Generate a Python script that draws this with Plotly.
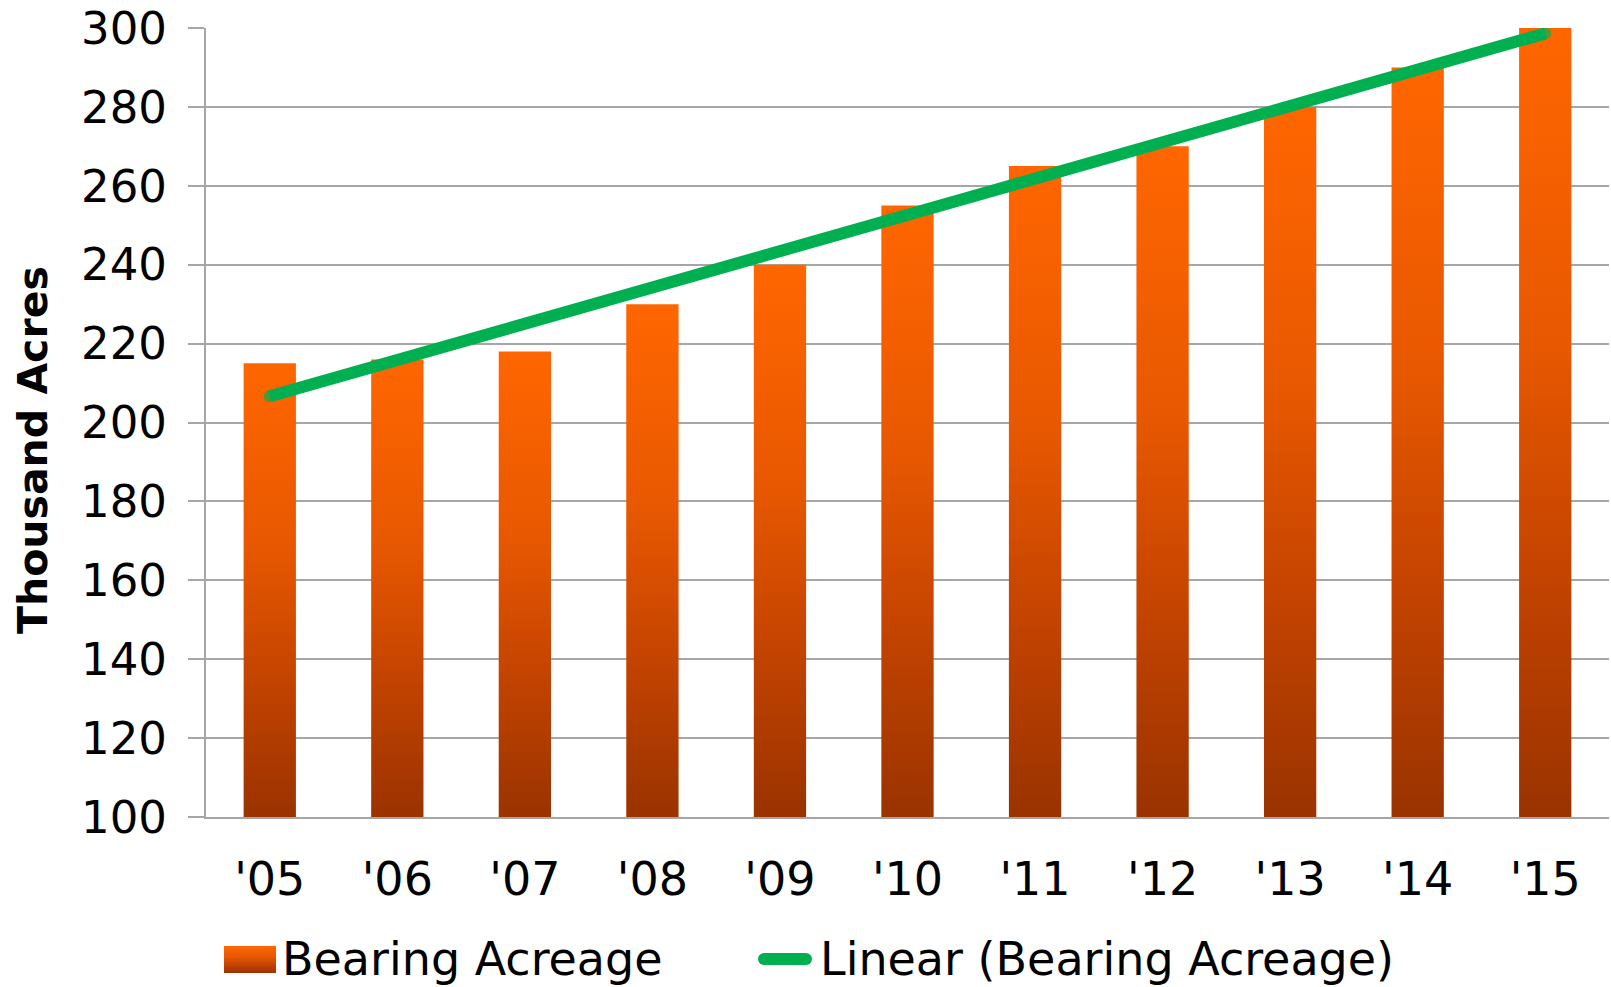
import base64
import numpy as np
import plotly.graph_objects as go

# Bearing acreage by year (thousand acres)
years = ["'05", "'06", "'07", "'08", "'09", "'10", "'11", "'12", "'13", "'14", "'15"]
acreage = [215, 216, 218, 230, 240, 255, 265, 270, 280, 290, 300]

y_min, y_max, y_step = 100, 300, 20
bar_width = 0.41

font_family = "Century Gothic, DejaVu Sans, sans-serif"
grid_color = "#A6A6A6"
trend_color = "#00B050"
bar_scale = [[0.0, "#9A3300"], [0.3, "#C34300"], [0.6, "#E85800"], [1.0, "#FF6600"]]

# Plot-area geometry in pixels, used to place the legend items
W, H = 1611, 987
L, R, T, B = 206, 2, 28, 170
plot_w, plot_h = W - L - R, H - T - B


def px_x(px):
    return (px - L) / plot_w


def px_y(py):
    return (H - B - py) / plot_h


fig = go.Figure()

# Each bar is a filled polygon so it can carry a vertical gradient
xs = np.arange(len(years))
for x, v in zip(xs, acreage):
    left, right = x - bar_width / 2, x + bar_width / 2
    fig.add_trace(go.Scatter(
        x=[left, left, right, right, left],
        y=[y_min, v, v, y_min, y_min],
        mode="lines",
        fill="toself",
        line=dict(width=0, color="rgba(0,0,0,0)"),
        fillgradient=dict(type="vertical", colorscale=bar_scale),
        name="Bearing Acreage",
        showlegend=False,
        hoverinfo="skip",
    ))

# Least-squares linear trend through the yearly values
slope, intercept = np.polyfit(xs, acreage, 1)
trend = slope * xs + intercept
cap_sizes = [12 if i in (0, len(xs) - 1) else 0 for i in range(len(xs))]
fig.add_trace(go.Scatter(
    x=xs, y=trend,
    mode="lines+markers",
    line=dict(color=trend_color, width=12),
    marker=dict(color=trend_color, size=cap_sizes, line=dict(width=0)),
    name="Linear (Bearing Acreage)",
    showlegend=False,
))

# Legend: gradient swatch for the bars, green stroke for the trend
stops = "".join(
    f'<stop offset="{1 - s:.2f}" stop-color="{c}"/>' for s, c in reversed(bar_scale)
)
svg = (
    '<svg xmlns="http://www.w3.org/2000/svg" width="52" height="27">'
    '<defs><linearGradient id="g" x1="0" y1="0" x2="0" y2="1">'
    f'{stops}</linearGradient></defs>'
    '<rect width="52" height="27" fill="url(#g)"/></svg>'
)
swatch_src = "data:image/svg+xml;base64," + base64.b64encode(svg.encode()).decode()

legend_y = 959
fig.add_layout_image(dict(
    source=swatch_src,
    xref="paper", yref="paper",
    x=px_x(224), y=px_y(946),
    sizex=52 / plot_w, sizey=27 / plot_h,
    xanchor="left", yanchor="top",
    sizing="stretch", layer="above",
))

cap_left, cap_right, cap_r = 764, 806, 6
fig.add_shape(
    type="line", xref="paper", yref="paper",
    x0=px_x(cap_left), x1=px_x(cap_right), y0=px_y(legend_y), y1=px_y(legend_y),
    line=dict(color=trend_color, width=2 * cap_r),
)
for cx in (cap_left, cap_right):
    fig.add_shape(
        type="circle", xref="paper", yref="paper",
        x0=px_x(cx - cap_r), x1=px_x(cx + cap_r),
        y0=px_y(legend_y + cap_r), y1=px_y(legend_y - cap_r),
        line=dict(width=0), fillcolor=trend_color,
    )

legend_labels = [("Bearing Acreage", 280), ("Linear (Bearing Acreage)", 818)]
annotations = [
    dict(
        text=label, xref="paper", yref="paper",
        x=px_x(x0), y=px_y(legend_y),
        xanchor="left", yanchor="middle", showarrow=False,
        font=dict(size=46, family=font_family, color="black"),
    )
    for label, x0 in legend_labels
]

annotations.append(dict(
    text="<b>Thousand Acres</b>",
    xref="paper", yref="paper",
    x=px_x(33), y=px_y(450),
    xanchor="center", yanchor="middle",
    textangle=-90, showarrow=False,
    font=dict(size=41, family=font_family, color="black"),
))

fig.update_layout(
    width=W, height=H,
    margin=dict(l=L, r=R, t=T, b=B),
    paper_bgcolor="white", plot_bgcolor="white",
    font=dict(family=font_family, size=46, color="black"),
    showlegend=False,
    xaxis=dict(
        range=[-0.5, len(years) - 0.5],
        tickmode="array", tickvals=xs, ticktext=years,
        showgrid=False, zeroline=False,
        showline=True, linecolor=grid_color, linewidth=2,
        ticks="", ticklabelstandoff=21,
        tickfont=dict(size=46),
    ),
    yaxis=dict(
        range=[y_min, y_max], dtick=y_step, tick0=y_min,
        showgrid=True, gridcolor=grid_color, gridwidth=2,
        zeroline=False,
        showline=True, linecolor=grid_color, linewidth=2,
        ticks="outside", ticklen=16, tickcolor=grid_color, tickwidth=2,
        ticklabelstandoff=12,
        tickfont=dict(size=45),
    ),
    annotations=annotations,
)

fig.write_html("out.html")
